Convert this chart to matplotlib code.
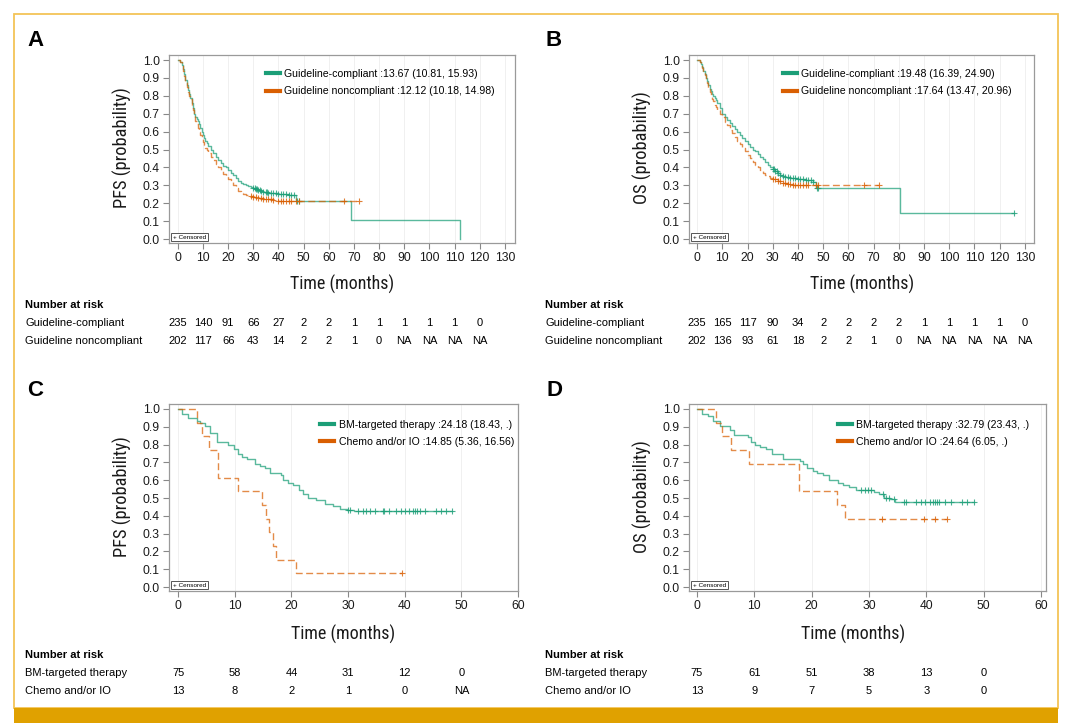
import matplotlib
matplotlib.use('Agg')
import matplotlib.pyplot as plt
from matplotlib import font_manager
from matplotlib.lines import Line2D
from matplotlib.patches import Rectangle
from matplotlib.transforms import blended_transform_factory
import numpy as np

# ---------------- DATA ----------------
GREEN = '#1b9e77'
ORANGE = '#d95f02'

# Panel A : PFS, guideline compliance
A_gc_t = [0, 1, 1.5, 2, 2.5, 3, 3.5, 4, 4.5, 5, 5.5, 6, 6.5, 7, 7.5, 8, 8.5, 9, 9.5, 10, 10.5, 11, 11.5, 12,
          13, 14, 15, 16, 17, 18, 19, 20, 21, 22, 23, 24, 25, 26, 27, 28, 29, 30, 31, 32, 33, 34, 35, 36,
          38, 40, 42, 44, 46, 47, 69, 112]
A_gc_s = [1.0, 0.99, 0.97, 0.95, 0.92, 0.89, 0.86, 0.83, 0.81, 0.79, 0.76, 0.73, 0.70, 0.68, 0.67, 0.66, 0.64,
          0.62, 0.60, 0.58, 0.565, 0.55, 0.535, 0.52, 0.50, 0.48, 0.46, 0.44, 0.425, 0.41, 0.40, 0.385, 0.37,
          0.355, 0.34, 0.325, 0.315, 0.305, 0.30, 0.295, 0.29, 0.285, 0.28, 0.275, 0.27, 0.265, 0.262, 0.26,
          0.255, 0.25, 0.25, 0.248, 0.245, 0.215, 0.107, 0.0]
A_gc_end = 112
A_gc_cens = [30, 30.5, 31, 31.5, 32, 32.5, 33, 34, 35, 35.5, 36, 37, 38, 39, 40, 41, 42, 43, 44, 45, 46, 47.5, 48]

A_gn_t = [0, 1, 1.5, 2, 2.5, 3, 3.5, 4, 4.5, 5, 5.5, 6, 6.5, 7, 7.5, 8, 8.5, 9, 9.5, 10, 10.5, 11, 11.5, 12,
          13, 14, 15, 16, 17, 18, 19, 20, 21, 22, 23, 24, 25, 26, 27, 28, 30, 32, 34, 36, 38, 40, 42]
A_gn_s = [1.0, 0.99, 0.97, 0.94, 0.91, 0.88, 0.85, 0.82, 0.80, 0.78, 0.75, 0.72, 0.69, 0.66, 0.64, 0.62, 0.60,
          0.58, 0.56, 0.54, 0.525, 0.51, 0.495, 0.48, 0.46, 0.44, 0.42, 0.40, 0.38, 0.365, 0.35, 0.335, 0.32,
          0.30, 0.285, 0.27, 0.26, 0.25, 0.245, 0.24, 0.235, 0.23, 0.225, 0.225, 0.22, 0.215, 0.21]
A_gn_end = 72
A_gn_cens = [29, 30, 31, 32, 33, 34, 35, 36, 37, 38, 40, 41, 42, 43, 44, 45, 47, 48, 66, 72]

# Panel B : OS, guideline compliance
B_gc_t = [0, 1, 1.5, 2, 2.5, 3, 3.5, 4, 4.5, 5, 5.5, 6, 6.5, 7, 7.5, 8, 9, 10, 11, 12, 13, 14, 15, 16, 17, 18,
          19, 20, 21, 22, 23, 24, 25, 26, 27, 28, 29, 30, 31, 32, 33, 34, 35, 37, 40, 43, 46, 47, 80.5]
B_gc_s = [1.0, 0.99, 0.975, 0.96, 0.94, 0.92, 0.90, 0.88, 0.86, 0.84, 0.825, 0.81, 0.80, 0.79, 0.775, 0.76,
          0.73, 0.70, 0.68, 0.665, 0.65, 0.63, 0.615, 0.60, 0.58, 0.565, 0.55, 0.53, 0.515, 0.50, 0.49, 0.475,
          0.46, 0.445, 0.43, 0.415, 0.40, 0.39, 0.38, 0.37, 0.36, 0.35, 0.345, 0.34, 0.335, 0.33, 0.32, 0.285,
          0.143]
B_gc_end = 125.5
B_gc_cens = [30, 30.5, 31, 31.5, 32, 33, 34, 35, 36, 37, 38, 39, 40, 41, 42, 43, 44, 45, 46, 47.5, 48, 125.5]

B_gn_t = [0, 1, 1.5, 2, 2.5, 3, 3.5, 4, 4.5, 5, 5.5, 6, 6.5, 7, 7.5, 8, 9, 10, 11, 12, 13, 14, 15, 16, 17, 18,
          19, 20, 21, 22, 23, 24, 25, 26, 27, 28, 29, 30, 32, 34, 36, 38]
B_gn_s = [1.0, 0.99, 0.975, 0.955, 0.935, 0.915, 0.89, 0.87, 0.845, 0.82, 0.80, 0.785, 0.77, 0.75, 0.735, 0.72,
          0.70, 0.68, 0.655, 0.635, 0.61, 0.59, 0.57, 0.55, 0.53, 0.51, 0.49, 0.47, 0.45, 0.43, 0.415, 0.40,
          0.38, 0.37, 0.36, 0.35, 0.34, 0.335, 0.325, 0.315, 0.305, 0.30]
B_gn_end = 72
B_gn_cens = [30, 31, 32, 33, 34, 35, 36, 37, 38, 39, 40, 41, 42, 43, 44, 47, 48, 66, 72]

# Panel C : PFS, treatment
C_bm_t = [0, 0.7, 1.7, 3.3, 3.9, 4.8, 5.7, 6.8, 8.9, 9.8, 10.6, 11.2, 12.1, 13.6, 14.5, 15.3, 16.2, 18.2, 18.5,
          19.4, 20.3, 21.4, 22.1, 23.0, 24.4, 25.9, 27.3, 28.5, 29.9, 31.0]
C_bm_s = [1.0, 0.973, 0.947, 0.933, 0.92, 0.907, 0.867, 0.813, 0.80, 0.773, 0.747, 0.733, 0.72, 0.693, 0.68,
          0.667, 0.64, 0.627, 0.60, 0.587, 0.573, 0.547, 0.52, 0.50, 0.487, 0.467, 0.453, 0.44, 0.435, 0.425]
C_bm_end = 48.3
C_bm_cens = [30.0, 30.4, 31.7, 32.6, 33.2, 33.8, 34.8, 36.2, 36.4, 37.3, 38.4, 39.4, 40.1, 40.8, 41.4, 41.8,
             42.2, 42.7, 43.6, 45.5, 46.4, 47.3, 48.3]

C_ch_t = [0, 3.3, 4.2, 5.4, 7.1, 10.5, 14.8, 15.5, 16.1, 16.7, 17.2, 20.8]
C_ch_s = [1.0, 0.923, 0.846, 0.769, 0.615, 0.538, 0.462, 0.385, 0.308, 0.231, 0.154, 0.077]
C_ch_end = 39.5
C_ch_cens = [39.5]

# Panel D : OS, treatment
D_bm_t = [0, 0.8, 1.9, 2.8, 4.0, 5.8, 6.5, 8.9, 9.5, 10.2, 11.0, 12.0, 13.0, 15.0, 17.9, 18.5, 19.2, 20.2, 21.0,
          22.0, 23.0, 24.6, 25.5, 26.5, 27.8, 30.8, 31.7, 32.6, 33.6, 34.5]
D_bm_s = [1.0, 0.973, 0.96, 0.933, 0.907, 0.88, 0.853, 0.84, 0.813, 0.80, 0.787, 0.773, 0.747, 0.72, 0.707,
          0.693, 0.667, 0.653, 0.64, 0.627, 0.60, 0.587, 0.573, 0.56, 0.547, 0.533, 0.52, 0.50, 0.493, 0.477]
D_bm_end = 48.3
D_bm_cens = [28.7, 29.3, 29.9, 30.4, 32.4, 32.9, 33.5, 34.4, 36.2, 36.5, 38.2, 39.0, 39.8, 40.6, 41.2, 41.6,
             41.9, 42.2, 43.3, 44.3, 46.2, 47.2, 48.3]

D_ch_t = [0, 3.3, 4.3, 5.9, 9.0, 17.8, 24.4, 25.9]
D_ch_s = [1.0, 0.923, 0.846, 0.769, 0.692, 0.538, 0.462, 0.385]
D_ch_end = 43.6
D_ch_cens = [32.2, 39.6, 41.6, 43.6]

# Legends
A_labels = ['Guideline-compliant :13.67 (10.81, 15.93)', 'Guideline noncompliant :12.12 (10.18, 14.98)']
B_labels = ['Guideline-compliant :19.48 (16.39, 24.90)', 'Guideline noncompliant :17.64 (13.47, 20.96)']
C_labels = ['BM-targeted therapy :24.18 (18.43, .)', 'Chemo and/or IO :14.85 (5.36, 16.56)']
D_labels = ['BM-targeted therapy :32.79 (23.43, .)', 'Chemo and/or IO :24.64 (6.05, .)']

# Number at risk
AB_groups = ['Guideline-compliant', 'Guideline noncompliant']
CD_groups = ['BM-targeted therapy', 'Chemo and/or IO']
A_risk_times = [0, 10, 20, 30, 40, 50, 60, 70, 80, 90, 100, 110, 120]
A_risk_1 = ['235', '140', '91', '66', '27', '2', '2', '1', '1', '1', '1', '1', '0']
A_risk_2 = ['202', '117', '66', '43', '14', '2', '2', '1', '0', 'NA', 'NA', 'NA', 'NA']
B_risk_times = [0, 10, 20, 30, 40, 50, 60, 70, 80, 90, 100, 110, 120, 130]
B_risk_1 = ['235', '165', '117', '90', '34', '2', '2', '2', '2', '1', '1', '1', '1', '0']
B_risk_2 = ['202', '136', '93', '61', '18', '2', '2', '1', '0', 'NA', 'NA', 'NA', 'NA', 'NA']
C_risk_times = [0, 10, 20, 30, 40, 50]
C_risk_1 = ['75', '58', '44', '31', '12', '0']
C_risk_2 = ['13', '8', '2', '1', '0', 'NA']
D_risk_times = [0, 10, 20, 30, 40, 50]
D_risk_1 = ['75', '61', '51', '38', '13', '0']
D_risk_2 = ['13', '9', '7', '5', '3', '0']

AB_xticks = list(range(0, 131, 10))
CD_xticks = list(range(0, 61, 10))
y_ticks = [0.0, 0.1, 0.2, 0.3, 0.4, 0.5, 0.6, 0.7, 0.8, 0.9, 1.0]

# ---------------- FONTS ----------------
available = {f.name for f in font_manager.fontManager.ttflist}
NARROW = next((f for f in ['Liberation Sans Narrow', 'DejaVu Sans Condensed', 'Roboto Condensed']
               if f in available), 'Liberation Sans')
plt.rcParams['font.family'] = ['Liberation Sans', 'DejaVu Sans']

W, H = 1080, 728
fig = plt.figure(figsize=(10.8, 7.28), dpi=100)


def rect(l, t, r, b):
    return [l / W, 1 - b / H, (r - l) / W, (b - t) / H]


def fy(y):
    return 1 - y / H


def step_value(t, s, x):
    i = np.searchsorted(np.asarray(t), x, side='right') - 1
    return np.asarray(s)[i]


def draw_curve(ax, t, s, end, cens, color, dashed):
    xs = list(t) + [end]
    ys = list(s) + [s[-1]]
    ax.plot(xs, ys, drawstyle='steps-post', color=color, lw=1.0, alpha=0.72,
            ls=(0, (5, 2.5)) if dashed else '-')
    cy = [step_value(t, s, c) for c in cens]
    ax.plot(cens, cy, ls='none', marker='+', ms=4.2, mew=0.8, color=color, alpha=0.8)


def panel(box, xlim, xticks, curves, labels, leg_anchor, letter, letter_xy, ylabel, ylab_xy,
          xlab_xy, risk_times, risk_rows, groups, risk_y, group_x):
    ax = fig.add_axes(rect(*box))
    for (t, s, end, cens, color, dashed) in curves:
        draw_curve(ax, t, s, end, cens, color, dashed)
    ax.set_xlim(*xlim)
    ax.set_ylim(-0.022, 1.028)
    ax.set_xticks(xticks)
    ax.set_yticks(y_ticks)
    ax.set_yticklabels([f'{v:.1f}' for v in y_ticks])
    ax.xaxis.grid(True, color='#eeeeee', lw=0.6)
    ax.set_axisbelow(True)
    for sp in ax.spines.values():
        sp.set_color('#9a9a9a')
        sp.set_linewidth(0.9)
    ax.tick_params(direction='out', length=4, width=0.8, color='#888888', labelsize=8.7,
                   labelcolor='#1a1a1a', pad=2.5)
    handles = [Line2D([], [], color=GREEN, lw=3), Line2D([], [], color=ORANGE, lw=3)]
    ax.legend(handles, labels, loc='upper left', bbox_to_anchor=leg_anchor, frameon=False,
              fontsize=7.6, handlelength=1.35, handletextpad=0.4, labelspacing=0.68,
              borderaxespad=0, borderpad=0)
    ax.text(0.011, 0.018, '+ Censored', transform=ax.transAxes, fontsize=4.6, ha='left', va='bottom',
            bbox=dict(boxstyle='square,pad=0.25', fc='white', ec='#555555', lw=0.7))
    fig.text(letter_xy[0] / W, fy(letter_xy[1]), letter, fontsize=16, fontweight='bold',
             ha='center', va='center')
    fig.text(ylab_xy[0] / W, fy(ylab_xy[1]), ylabel, rotation=90, fontsize=13.2,
             family=[NARROW, 'DejaVu Sans'], ha='center', va='center', color='#1a1a1a')
    fig.text(xlab_xy[0] / W, fy(xlab_xy[1]), 'Time (months)', fontsize=13.0,
             family=[NARROW, 'DejaVu Sans'], ha='center', va='center', color='#1a1a1a')
    tr = blended_transform_factory(ax.transData, fig.transFigure)
    fig.text(group_x / W, fy(risk_y[0]), 'Number at risk', fontsize=8, fontweight='bold',
             ha='left', va='center')
    for row, g, y in zip(risk_rows, groups, risk_y[1:]):
        fig.text(group_x / W, fy(y), g, fontsize=8, ha='left', va='center')
        for tm, v in zip(risk_times, row):
            ax.text(tm, fy(y), v, transform=tr, fontsize=8, ha='center', va='center')
    return ax


panel((169, 55, 515, 243), (-3.5, 134), AB_xticks,
      [(A_gc_t, A_gc_s, A_gc_end, A_gc_cens, GREEN, False),
       (A_gn_t, A_gn_s, A_gn_end, A_gn_cens, ORANGE, True)],
      A_labels, (0.28, 0.925), 'A', (35, 40), 'PFS (probability)', (122, 148), (342, 284),
      A_risk_times, [A_risk_1, A_risk_2], AB_groups, (305, 323, 341), 25)

panel((689, 55, 1034, 243), (-3.2, 133.6), AB_xticks,
      [(B_gc_t, B_gc_s, B_gc_end, B_gc_cens, GREEN, False),
       (B_gn_t, B_gn_s, B_gn_end, B_gn_cens, ORANGE, True)],
      B_labels, (0.2725, 0.925), 'B', (554, 40), 'OS (probability)', (642, 148), (862, 284),
      B_risk_times, [B_risk_1, B_risk_2], AB_groups, (305, 323, 341), 545)

panel((169, 404, 518, 591), (-1.6, 60.0), CD_xticks,
      [(C_bm_t, C_bm_s, C_bm_end, C_bm_cens, GREEN, False),
       (C_ch_t, C_ch_s, C_ch_end, C_ch_cens, ORANGE, True)],
      C_labels, (0.433, 0.915), 'C', (35, 390), 'PFS (probability)', (122, 497), (343, 634),
      C_risk_times, [C_risk_1, C_risk_2], CD_groups, (655, 673, 691), 25)

panel((689, 404, 1046, 591), (-1.4, 60.9), CD_xticks,
      [(D_bm_t, D_bm_s, D_bm_end, D_bm_cens, GREEN, False),
       (D_ch_t, D_ch_s, D_ch_end, D_ch_cens, ORANGE, True)],
      D_labels, (0.417, 0.915), 'D', (554, 390), 'OS (probability)', (642, 497), (853, 634),
      D_risk_times, [D_risk_1, D_risk_2], CD_groups, (655, 673, 691), 545)

# frame and bottom bar
fig.patches.append(Rectangle((14 / W, fy(708)), (1058 - 14) / W, (708 - 14) / H, transform=fig.transFigure,
                             fill=False, ec='#f3c457', lw=1.3))
fig.patches.append(Rectangle((14 / W, fy(723)), (1058 - 14) / W, (723 - 708) / H, transform=fig.transFigure,
                             fc='#e0a100', ec='none'))

fig.savefig('out.png', dpi=100)
